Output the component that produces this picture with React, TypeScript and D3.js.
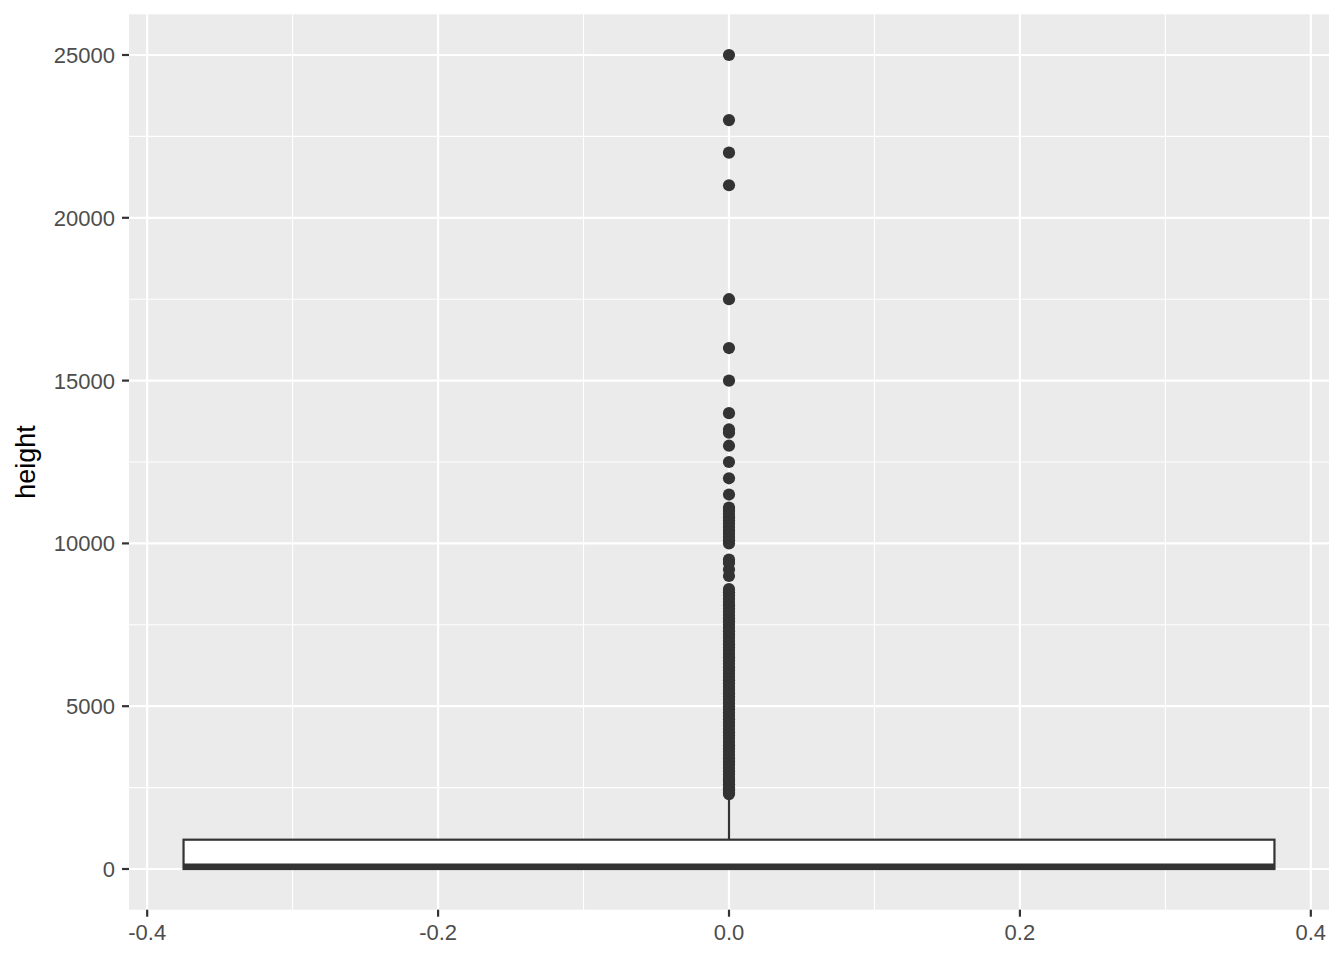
import { useMemo } from 'react';
import * as d3 from 'd3';

// boxplot summary (height)
const BOX_STATS = { lower: 0, q1: 0, median: 100, q3: 900, upper: 2250 };
const OUTLIERS = [
  2300, 2350, 2400, 2450, 2500, 2600, 2700, 2750, 2800, 2900, 3000, 3100, 3200, 3300,
  3400, 3500, 3600, 3700, 3800, 3900, 4000, 4100, 4200, 4300, 4400, 4500, 4600, 4700,
  4800, 4900, 5000, 5100, 5200, 5300, 5400, 5500, 5600, 5700, 5800, 5900, 6000, 6100,
  6200, 6300, 6400, 6500, 6600, 6700, 6800, 6900, 7000, 7100, 7200, 7300, 7400, 7500,
  7600, 7700, 7800, 7900, 8000, 8100, 8200, 8300, 8400, 8500, 8600,
  9000, 9200, 9400, 9500,
  10000, 10100, 10200, 10300, 10400, 10500, 10600, 10700, 10800, 10900, 11000, 11100,
  11500, 12000, 12500, 13000, 13400, 13500, 14000, 15000, 16000, 17500,
  21000, 22000, 23000, 25000,
];
const Y_TICKS = [0, 5000, 10000, 15000, 20000, 25000];
const Y_MINOR = [2500, 7500, 12500, 17500, 22500];
const X_TICKS = [-0.4, -0.2, 0.0, 0.2, 0.4];
const X_MINOR = [-0.3, -0.1, 0.1, 0.3];

const W = 1344, H = 960;
const panel = { left: 129, right: 1329, top: 14.3, bottom: 909.7 };
const INK = '#333333';
const FONT = '"Liberation Sans", Arial, sans-serif';

export default function App() {
  const x = useMemo(() => d3.scaleLinear().domain([-0.4125, 0.4125]).range([panel.left, panel.right]), []);
  const y = useMemo(() => d3.scaleLinear().domain([-1250, 26250]).range([panel.bottom, panel.top]), []);
  // ggplot prints a plain hyphen, not the unicode minus d3 uses
  const fmtX = (v: number) => d3.format('.1f')(v).replace('\u2212', '-');

  const bx0 = x(-0.375), bx1 = x(0.375), cx = x(0);

  return (
    <svg width={W} height={H} style={{ position: 'absolute', left: 0, top: 0, background: '#fff' }}>
      <rect x={panel.left} y={panel.top} width={panel.right - panel.left} height={panel.bottom - panel.top} fill="#EBEBEB" />
      {Y_MINOR.map((v) => (
        <line key={'ym' + v} x1={panel.left} x2={panel.right} y1={y(v)} y2={y(v)} stroke="#fff" strokeWidth={1.1} />
      ))}
      {X_MINOR.map((v) => (
        <line key={'xm' + v} x1={x(v)} x2={x(v)} y1={panel.top} y2={panel.bottom} stroke="#fff" strokeWidth={1.1} />
      ))}
      {Y_TICKS.map((v) => (
        <line key={'yM' + v} x1={panel.left} x2={panel.right} y1={y(v)} y2={y(v)} stroke="#fff" strokeWidth={2.2} />
      ))}
      {X_TICKS.map((v) => (
        <line key={'xM' + v} x1={x(v)} x2={x(v)} y1={panel.top} y2={panel.bottom} stroke="#fff" strokeWidth={2.2} />
      ))}

      {/* whiskers */}
      <line x1={cx} x2={cx} y1={y(BOX_STATS.q3)} y2={y(BOX_STATS.upper)} stroke={INK} strokeWidth={2.2} />
      <line x1={cx} x2={cx} y1={y(BOX_STATS.q1)} y2={y(BOX_STATS.lower)} stroke={INK} strokeWidth={2.2} />
      {/* box */}
      <rect x={bx0} y={y(BOX_STATS.q3)} width={bx1 - bx0} height={y(BOX_STATS.q1) - y(BOX_STATS.q3)}
        fill="#fff" stroke={INK} strokeWidth={2.2} />
      <line x1={bx0} x2={bx1} y1={y(BOX_STATS.median)} y2={y(BOX_STATS.median)} stroke={INK} strokeWidth={4.4} />

      {OUTLIERS.map((v, i) => (
        <circle key={'o' + i} cx={cx} cy={y(v)} r={6.1} fill={INK} />
      ))}

      {/* y axis */}
      {Y_TICKS.map((v) => (
        <g key={'yt' + v}>
          <line x1={panel.left - 7} x2={panel.left} y1={y(v)} y2={y(v)} stroke={INK} strokeWidth={2.2} />
          <text x={panel.left - 14} y={y(v)} dy="0.36em" textAnchor="end" fontFamily={FONT} fontSize={22} fill="#4D4D4D">
            {v}
          </text>
        </g>
      ))}
      {/* x axis */}
      {X_TICKS.map((v) => (
        <g key={'xt' + v}>
          <line x1={x(v)} x2={x(v)} y1={panel.bottom} y2={panel.bottom + 7} stroke={INK} strokeWidth={2.2} />
          <text x={x(v)} y={940} textAnchor="middle" fontFamily={FONT} fontSize={22} fill="#4D4D4D">
            {fmtX(v)}
          </text>
        </g>
      ))}
      <text transform={`translate(35,${(panel.top + panel.bottom) / 2}) rotate(-90)`} textAnchor="middle"
        fontFamily={FONT} fontSize={27} fill="#000">
        height
      </text>
    </svg>
  );
}
